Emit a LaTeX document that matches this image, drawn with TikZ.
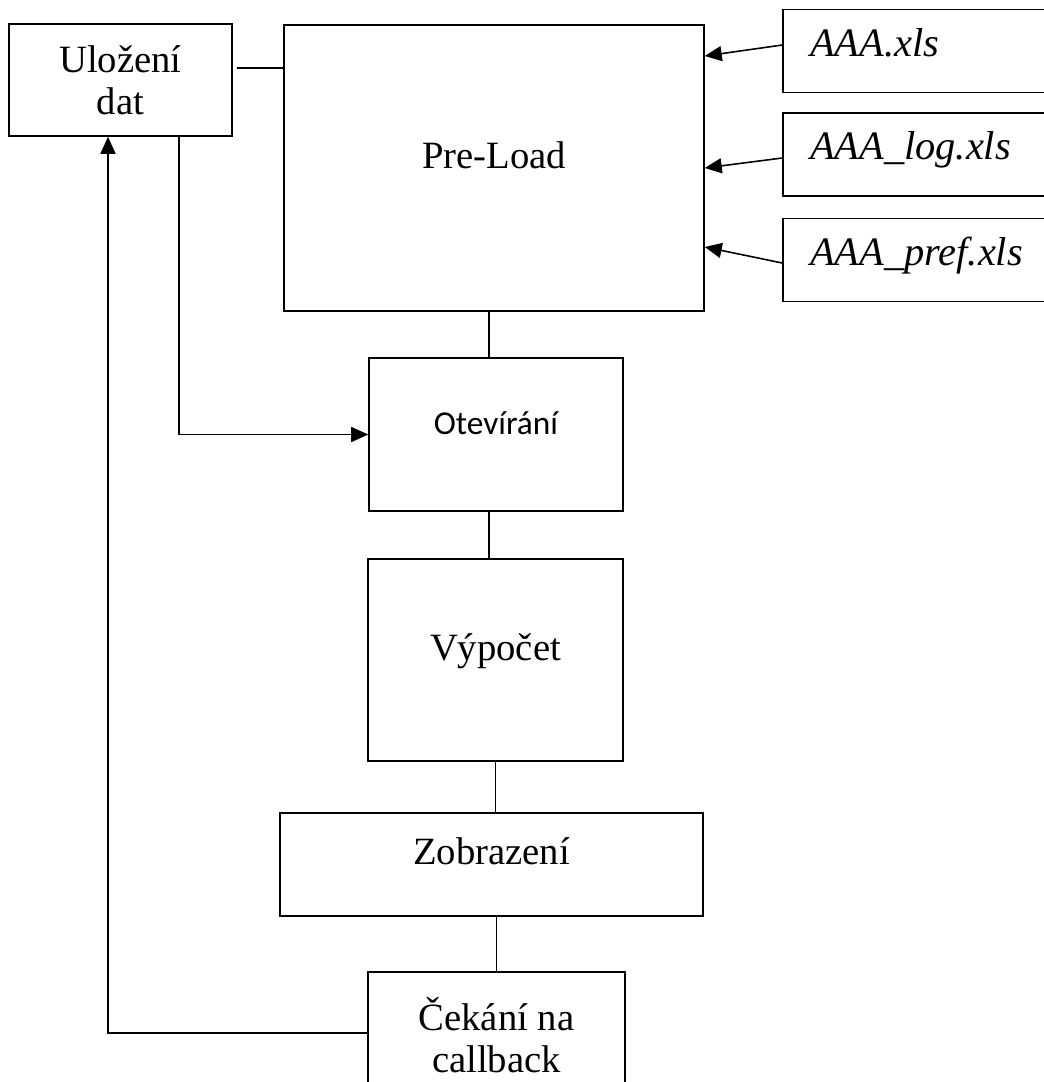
\documentclass[tikz,border=0pt]{standalone}
\usepackage{fontspec}
\setmainfont{Liberation Serif}
\newfontfamily\calibrifont{Carlito}
\usetikzlibrary{arrows.meta}

\begin{document}
\begin{tikzpicture}[x=0.02cm,y=-0.02cm,
  box/.style={draw,line width=0.9pt,inner sep=0pt,font=\fontsize{22}{24}\selectfont},
  raised/.style={text height=0.3cm,text depth=0.3cm},
  filebox/.style={box,font=\fontsize{23}{25}\selectfont\itshape,text width=4.66cm,inner xsep=0.54cm,align=left,minimum height=1.66cm,text height=1.5ex,text depth=.25ex},
  line/.style={line width=0.9pt},
  arr/.style={line,-{Triangle[length=0.34cm,width=0.3cm]}}]
\useasboundingbox (0,0) rectangle (1044,1082);
\clip (0,0) rectangle (1044,1082);

\node[box,minimum width=4.46cm,minimum height=2.24cm,align=center] (ulozeni) at (120.5,80) {Uložení\\dat};
\node[box,raised,minimum width=8.4cm,minimum height=5.72cm] (preload) at (494,168) {Pre-Load};
\node[filebox] (aaa) at (926.5,51) {AAA.xls};
\node[filebox] (aaalog) at (926.5,154.5) {AAA\_log.xls};
\node[filebox] (aaapref) at (926.5,260) {AAA\_pref.xls};
\node[box,raised,minimum width=5.08cm,minimum height=3.06cm,font=\calibrifont\fontsize{19}{23}\selectfont] (otevirani) at (496,434.5) {Otevírání};
\node[box,raised,minimum width=5.1cm,minimum height=4.04cm] (vypocet) at (495.5,660) {Výpočet};
\node[box,raised,minimum width=8.46cm,minimum height=2.06cm] (zobrazeni) at (491.5,864.5) {Zobrazení};
\node[box,minimum width=5.14cm,minimum height=2.52cm,align=center] (cekani) at (496.5,1035) {Čekání na\\callback};

\draw[line] ([xshift=0.08cm,yshift=0.24cm]ulozeni.east) coordinate (u) -- (u -| preload.west);
\draw[arr] ([yshift=0.12cm]aaa.west) -- ([yshift=2.24cm]preload.east);
\draw[arr] ([yshift=-0.07cm]aaalog.west) -- (preload.east);
\draw[arr] ([yshift=-0.06cm]aaapref.west) -- ([yshift=-1.58cm]preload.east);

\draw[line] ([xshift=-0.14cm]otevirani.north) -- ([xshift=-0.14cm]otevirani.north |- preload.south);
\draw[line] ([xshift=-0.14cm]otevirani.south) -- ([xshift=-0.14cm]otevirani.south |- vypocet.north);
\draw[line] (vypocet.south) -- (vypocet.south |- zobrazeni.north);
\draw[line] (cekani.north) -- (cekani.north |- zobrazeni.south);

\draw[arr] ([xshift=1.17cm]ulozeni.south) |- (otevirani.west);
\draw[arr] ([yshift=0.04cm]cekani.west) -| ([xshift=-0.25cm]ulozeni.south);
\end{tikzpicture}
\end{document}
